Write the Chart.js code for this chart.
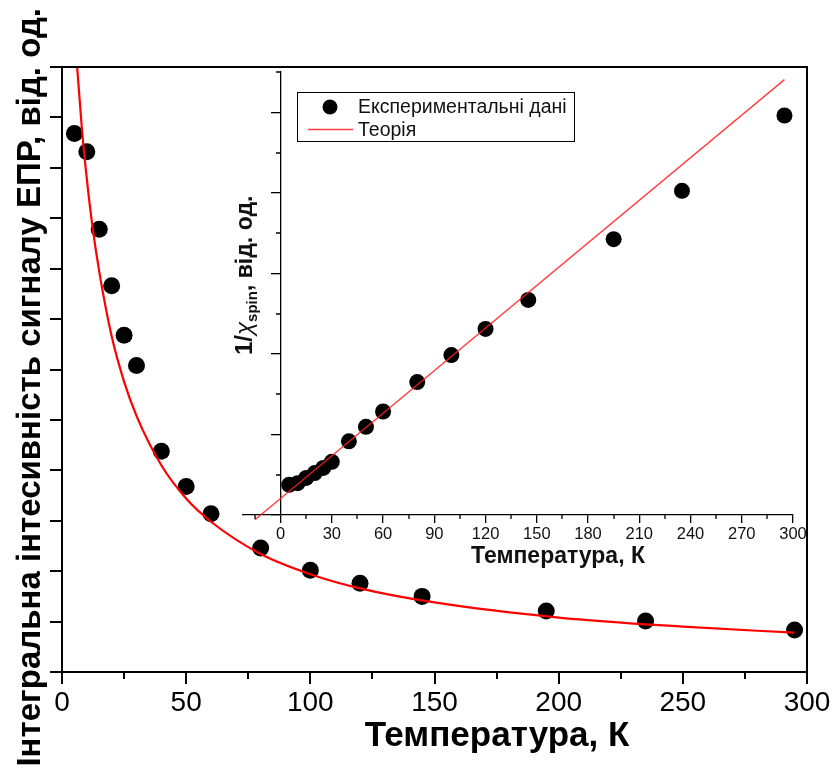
<!DOCTYPE html>
<html>
<head>
<meta charset="utf-8">
<script src="https://cdn.jsdelivr.net/npm/chart.js@4.4.1/dist/chart.umd.min.js"></script>
<style>
  html, body { margin: 0; padding: 0; background: #fff; }
  #wrap { position: relative; width: 832px; height: 767px; overflow: hidden; }
  #wrap canvas { position: absolute; left: 0; top: 0; }
  #inset { pointer-events: none; }
</style>
</head>
<body>
<div id="wrap">
  <canvas id="main" width="832" height="767"></canvas>
  <canvas id="inset" width="832" height="767"></canvas>
</div>
<script>
// ---- Main panel: integrated EPR signal intensity vs temperature ----
const temps = [5, 10, 15, 20, 25, 30, 40, 50, 60, 80, 100, 120, 145, 195, 235, 295];
const intensity = [5.34, 5.16, 4.39, 3.83, 3.34, 3.04, 2.19, 1.84, 1.57, 1.23, 1.01, 0.88, 0.75, 0.605, 0.506, 0.417];
const theoryTemps = [5.5, 8, 10, 12, 15, 20, 25, 30, 40, 50, 60, 80, 100, 120, 150, 200, 250, 295];
const theoryIntensity = [6.20, 5.39, 4.89, 4.47, 3.97, 3.33, 2.88, 2.54, 2.05, 1.72, 1.49, 1.17, 0.97, 0.83, 0.69, 0.54, 0.45, 0.39];
const mainMinorX = [25, 75, 125, 175, 225, 275];

// ---- Inset: inverse spin susceptibility vs temperature ----
const invChi = [0.75, 0.79, 0.92, 1.04, 1.17, 1.32, 1.83, 2.19, 2.57, 3.30, 3.97, 4.62, 5.34, 6.85, 8.05, 9.92];
const fitTemps = [-15, 295];
const fitInvChi = [-0.12, 10.81];
const insetMinorX = [-15, 15, 45, 75, 105, 135, 165, 195, 225, 255, 285];
const insetMinorY = [1, 3, 5, 7, 9, 11];

const LEGEND_EXP = 'Експериментальні дані';
const LEGEND_THEORY = 'Теорія';
const X_TITLE = 'Температура, К';
const Y_TITLE = 'Інтегральна інтесивність сигналу ЕПР, від. од.';

const FONT = '"Liberation Sans", Arial, sans-serif';
const pts = (xs, ys) => xs.map((x, i) => ({ x, y: ys[i] }));

Chart.defaults.font.family = FONT;
Chart.defaults.color = '#000';

function zeroPad(scale) {
  scale.paddingLeft = 0; scale.paddingRight = 0;
  scale.paddingTop = 0; scale.paddingBottom = 0;
}

// frame, minor ticks and axis titles of the main panel
const mainDecor = {
  id: 'mainDecor',
  afterDraw(chart) {
    const { ctx, chartArea: a } = chart;
    const x = chart.scales.x;
    ctx.save();
    ctx.strokeStyle = '#000';
    ctx.lineWidth = 2;
    ctx.beginPath();
    ctx.moveTo(a.left - 1, a.top);
    ctx.lineTo(a.right, a.top);
    ctx.lineTo(a.right, a.bottom + 1);
    ctx.stroke();
    ctx.beginPath();
    for (const v of mainMinorX) {
      const px = Math.round(x.getPixelForValue(v));
      ctx.moveTo(px, a.bottom);
      ctx.lineTo(px, a.bottom + 7);
    }
    ctx.stroke();

    ctx.fillStyle = '#000';
    ctx.font = `bold 35px ${FONT}`;
    ctx.textAlign = 'center';
    ctx.textBaseline = 'alphabetic';
    ctx.fillText(X_TITLE, 497, 746);

    ctx.font = `bold 33px ${FONT}`;
    ctx.translate(40, 8);
    ctx.rotate(-Math.PI / 2);
    ctx.textAlign = 'right';
    ctx.fillText(Y_TITLE, 0, 0);
    ctx.restore();
  }
};

new Chart(document.getElementById('main'), {
  type: 'scatter',
  data: {
    datasets: [
      {
        label: LEGEND_THEORY,
        data: pts(theoryTemps, theoryIntensity),
        showLine: true,
        borderColor: '#ff0000',
        borderWidth: 2.2,
        pointRadius: 0,
        cubicInterpolationMode: 'monotone',
        order: 0
      },
      {
        label: LEGEND_EXP,
        data: pts(temps, intensity),
        pointRadius: 8.5,
        pointBackgroundColor: '#000',
        pointBorderColor: '#000',
        pointBorderWidth: 0,
        order: 1
      }
    ]
  },
  options: {
    responsive: false,
    animation: false,
    devicePixelRatio: 1,
    layout: { padding: { left: 0, top: 67, right: 25, bottom: 0 } },
    plugins: { legend: { display: false }, tooltip: { enabled: false } },
    scales: {
      x: {
        type: 'linear', position: 'bottom', min: 0, max: 300,
        ticks: { stepSize: 50, font: { size: 28 }, color: '#000', padding: 2 },
        grid: { drawOnChartArea: false, drawTicks: true, tickLength: 12, color: '#000', lineWidth: 2 },
        border: { display: true, color: '#000', width: 2 },
        afterFit(s) { s.height = 95; zeroPad(s); }
      },
      y: {
        type: 'linear', position: 'left', min: 0, max: 6,
        ticks: { stepSize: 0.5, display: false },
        grid: { drawOnChartArea: false, drawTicks: true, tickLength: 12, color: '#000', lineWidth: 2 },
        border: { display: true, color: '#000', width: 2 },
        afterFit(s) { s.width = 62; zeroPad(s); }
      }
    }
  },
  plugins: [mainDecor]
});

// minor ticks, legend and titles of the inset
const insetDecor = {
  id: 'insetDecor',
  afterDraw(chart) {
    const { ctx, chartArea: a } = chart;
    const x = chart.scales.x, y = chart.scales.y;
    const yAxisX = Math.round(x.getPixelForValue(0));
    ctx.save();
    ctx.strokeStyle = '#000';
    ctx.lineWidth = 1.3;
    ctx.beginPath();
    for (const v of insetMinorX) {
      const px = Math.round(x.getPixelForValue(v));
      ctx.moveTo(px, a.bottom);
      ctx.lineTo(px, a.bottom + 4);
    }
    for (const v of insetMinorY) {
      const py = Math.round(y.getPixelForValue(v));
      ctx.moveTo(yAxisX, py);
      ctx.lineTo(yAxisX - 5, py);
    }
    ctx.stroke();

    // legend
    const ds = chart.data.datasets;
    const expSet = ds.find(d => d.label === LEGEND_EXP);
    const fitSet = ds.find(d => d.label === LEGEND_THEORY);
    ctx.lineWidth = 1;
    ctx.strokeStyle = '#000';
    ctx.strokeRect(297.5, 92.5, 277, 49);
    ctx.fillStyle = expSet.pointBackgroundColor;
    ctx.beginPath();
    ctx.arc(330, 107, 7.5, 0, Math.PI * 2);
    ctx.fill();
    ctx.strokeStyle = fitSet.borderColor;
    ctx.lineWidth = fitSet.borderWidth;
    ctx.beginPath();
    ctx.moveTo(308, 129.5);
    ctx.lineTo(353, 129.5);
    ctx.stroke();
    ctx.fillStyle = '#111';
    ctx.font = `19.5px ${FONT}`;
    ctx.textAlign = 'left';
    ctx.textBaseline = 'alphabetic';
    ctx.fillText(expSet.label, 358, 113);
    ctx.fillText(fitSet.label, 358, 136);

    // x title
    ctx.font = `bold 23px ${FONT}`;
    ctx.textAlign = 'center';
    ctx.fillText(X_TITLE, 558, 563);

    // y title: 1/χ_spin, від. од.
    ctx.translate(252, 355);
    ctx.rotate(-Math.PI / 2);
    ctx.textAlign = 'left';
    const runs = [
      { text: '1/', font: `bold 24px ${FONT}`, dy: 0 },
      { text: 'χ', font: `italic 24px ${FONT}`, dy: 0 },
      { text: 'spin', font: `bold 15px ${FONT}`, dy: 5 },
      { text: ', від. од.', font: `bold 23px ${FONT}`, dy: 0 }
    ];
    let cx = 0;
    for (const r of runs) {
      ctx.font = r.font;
      ctx.fillText(r.text, cx, r.dy);
      cx += ctx.measureText(r.text).width;
    }
    ctx.restore();
  }
};

new Chart(document.getElementById('inset'), {
  type: 'scatter',
  data: {
    datasets: [
      {
        label: LEGEND_THEORY,
        data: pts(fitTemps, fitInvChi),
        showLine: true,
        borderColor: 'rgba(255,30,30,0.85)',
        borderWidth: 1.4,
        pointRadius: 0,
        clip: 10,
        order: 0
      },
      {
        label: LEGEND_EXP,
        data: pts(temps, invChi),
        pointRadius: 8,
        pointBackgroundColor: '#000',
        pointBorderColor: '#000',
        pointBorderWidth: 0,
        clip: 10,
        order: 1
      }
    ]
  },
  options: {
    responsive: false,
    animation: false,
    devicePixelRatio: 1,
    layout: { padding: { left: 243, top: 72, right: 39, bottom: 192 } },
    plugins: { legend: { display: false }, tooltip: { enabled: false } },
    scales: {
      x: {
        type: 'linear', position: 'bottom', min: -22, max: 300,
        ticks: { stepSize: 30, includeBounds: false, font: { size: 16.5 }, color: '#111', padding: 2 },
        grid: { drawOnChartArea: false, drawTicks: true, tickLength: 8, color: '#000', lineWidth: 1.3 },
        border: { display: true, color: '#000', width: 1.3 },
        afterFit(s) { s.height = 60; zeroPad(s); }
      },
      y: {
        type: 'linear', position: { x: 0 }, min: 0, max: 11,
        ticks: { stepSize: 2, includeBounds: false, display: false },
        grid: { drawOnChartArea: false, drawTicks: true, tickLength: 9, color: '#000', lineWidth: 1.3 },
        border: { display: true, color: '#000', width: 1.3 },
        afterFit(s) { zeroPad(s); }
      }
    }
  },
  plugins: [insetDecor]
});
</script>
</body>
</html>
